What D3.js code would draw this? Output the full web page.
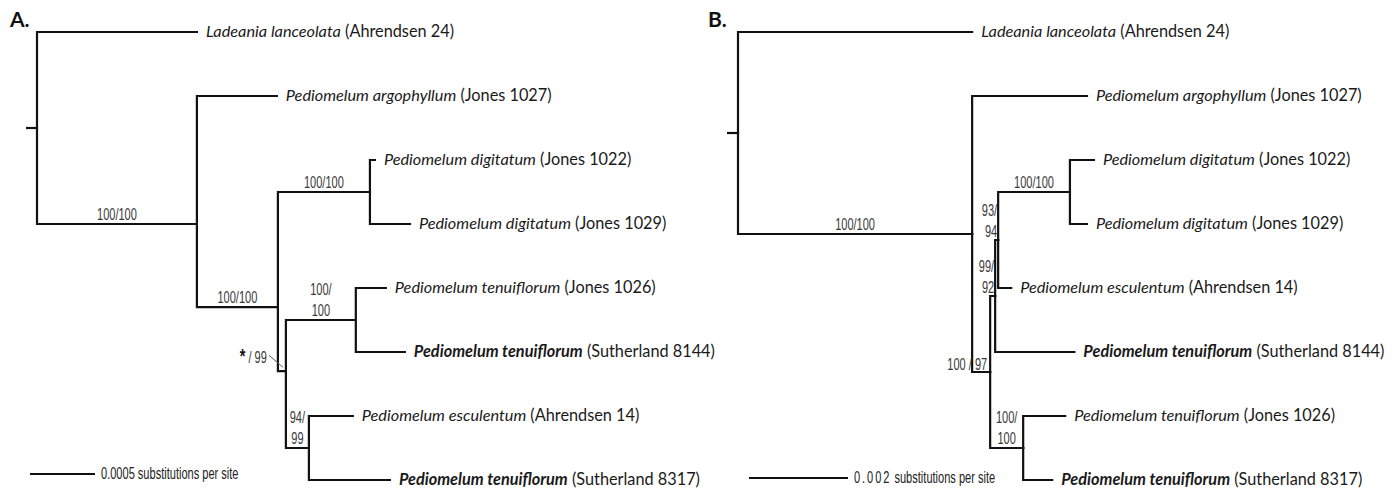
<!DOCTYPE html>
<html>
<head>
<meta charset="utf-8">
<script src="https://cdn.jsdelivr.net/npm/d3@7"></script>
<style>
  html, body { margin: 0; padding: 0; background: #fff; }
  svg { display: block; }
  .taxon { font-family: Lato, "Noto Sans", sans-serif; font-size: 16.3px; fill: #1a1a1a; }
  .support { font-family: "Liberation Sans", Arial, sans-serif; font-size: 16px; fill: #3a3a3a; }
  .scale-text { font-family: "Liberation Sans", Arial, sans-serif; font-size: 17px; fill: #222; }
  .panel-title { font-family: Lato, "Noto Sans", sans-serif; font-size: 21px; font-weight: bold; fill: #111; }
</style>
</head>
<body>
<svg id="chart" width="1395" height="489"></svg>
<script>
// taxon id -> [name (italic), voucher, bold?]
const taxa = {
  lad:     ["Ladeania lanceolata",    "Ahrendsen 24",    false],
  arg:     ["Pediomelum argophyllum", "Jones 1027",      false],
  dig1022: ["Pediomelum digitatum",   "Jones 1022",      false],
  dig1029: ["Pediomelum digitatum",   "Jones 1029",      false],
  ten1026: ["Pediomelum tenuiflorum", "Jones 1026",      false],
  ten8144: ["Pediomelum tenuiflorum", "Sutherland 8144", true],
  esc:     ["Pediomelum esculentum",  "Ahrendsen 14",    false],
  ten8317: ["Pediomelum tenuiflorum", "Sutherland 8317", true]
};

// tree A: [id, parent, branch length (substitutions/site)]
const edgesA = [
  ["root", "", 0],
  ["lad", "root", 0.00123],
  ["a1", "root", 0.00123],
  ["arg", "a1", 0.000615],
  ["a2", "a1", 0.000623],
  ["a3", "a2", 0.000708],
  ["dig1022", "a3", 0.0000385],
  ["dig1029", "a3", 0.000308],
  ["a4", "a2", 0.0000615],
  ["a5", "a4", 0.000538],
  ["ten1026", "a5", 0.000231],
  ["ten8144", "a5", 0.000377],
  ["a6", "a4", 0.000177],
  ["esc", "a6", 0.000338],
  ["ten8317", "a6", 0.000623]
];
// rows of internal nodes in tree A that are not centred on their children
const rowsA = [["a1", 3.0], ["a2", 4.3], ["a4", 5.3]];
const supportA = [
  ["a1", ["100/100"], "above"],
  ["a2", ["100/100"], "above"],
  ["a3", ["100/100"], "above"],
  ["a5", ["100/", "100"], "stack"],
  ["a6", ["94/", "99"], "stack"],
  ["a4", ["*/99"], "leader"]
];

// tree B
const edgesB = [
  ["root", "", 0],
  ["lad", "root", 0.00473],
  ["b1", "root", 0.00473],
  ["arg", "b1", 0.00232],
  ["b2", "b1", 0.000364],
  ["b3", "b2", 0.000101],
  ["b5", "b3", 0.0000606],
  ["b6", "b5", 0.00145],
  ["dig1022", "b6", 0.000485],
  ["dig1029", "b6", 0.000343],
  ["esc", "b5", 0.000263],
  ["ten8144", "b3", 0.0016],
  ["b4", "b2", 0.000667],
  ["ten1026", "b4", 0.000848],
  ["ten8317", "b4", 0.000586]
];
const rowsB = [];
const supportB = [
  ["b1", ["100/100"], "above"],
  ["b6", ["100/100"], "above"],
  ["b5", ["93/", "94"], "leftStack"],
  ["b3", ["99/", "92"], "leftStack"],
  ["b2", ["100 / 97"], "left"],
  ["b4", ["100/", "100"], "stack"]
];

const panels = [
  { title: "A.", titleX: 10, edges: edgesA, rows: rowsA, support: supportA,
    rootX: 37, scaleLen: 0.0005, scalePx: 65, scaleNum: "0.0005",
    barX: 30, barY: 474, numSpacing: 0 },
  { title: "B.", titleX: 708, edges: edgesB, rows: rowsB, support: supportB,
    rootX: 738, scaleLen: 0.002, scalePx: 99, scaleNum: "0.002",
    barX: 749, barY: 478, numSpacing: 3 }
];

const svg = d3.select("#chart");
const nLeaves = 8;
const yRow = d3.scaleLinear().domain([0, nLeaves - 1]).range([32, 480]);

// tall, narrow (Arial Narrow-like) text for support values and scale bar
function narrow(g, cls, x, y, anchor, sx = 0.69) {
  return g.append("text").attr("class", cls)
    .attr("text-anchor", anchor)
    .attr("transform", `translate(${x},${y}) scale(${sx},1)`);
}

panels.forEach(p => {
  const g = svg.append("g");
  const x = d3.scaleLinear().domain([0, p.scaleLen]).range([p.rootX, p.rootX + p.scalePx]);
  const rowOverride = new Map(p.rows);

  const root = d3.stratify()
    .id(d => d[0])
    .parentId(d => d[1] || null)(p.edges);

  // x from cumulative branch length
  root.eachBefore(n => {
    n.dist = n.parent ? n.parent.dist + n.data[2] : 0;
    n.px = x(n.dist);
  });
  // y: leaves in order, internal nodes centred (or read-off row)
  let leafIdx = 0;
  root.eachBefore(n => { if (!n.children) n.row = leafIdx++; });
  root.eachAfter(n => {
    if (n.children) {
      const first = n.children[0].row, last = n.children[n.children.length - 1].row;
      n.row = rowOverride.has(n.id) ? rowOverride.get(n.id) : (first + last) / 2;
    }
    n.py = yRow(n.row);
  });

  // title
  g.append("text").attr("class", "panel-title")
    .attr("x", p.titleX).attr("y", 27).text(p.title);

  // root stub
  g.append("line")
    .attr("x1", root.px - 11).attr("x2", root.px)
    .attr("y1", root.py).attr("y2", root.py)
    .attr("stroke", "#111").attr("stroke-width", 2.2);

  // branches (elbows)
  g.append("g").selectAll("path")
    .data(root.links())
    .join("path")
    .attr("d", l => `M${l.source.px},${l.source.py}V${l.target.py}H${l.target.px}`)
    .attr("fill", "none")
    .attr("stroke", "#111")
    .attr("stroke-width", 2.2)
    .attr("stroke-linecap", "square");

  // leaf labels
  const lab = g.append("g").selectAll("text")
    .data(root.leaves())
    .join("text")
    .attr("class", "taxon")
    .attr("x", d => d.px + 9)
    .attr("y", d => d.py + 5);
  lab.append("tspan")
    .attr("font-style", "italic")
    .attr("font-weight", d => taxa[d.id][2] ? "bold" : "normal")
    .text(d => taxa[d.id][0]);
  lab.append("tspan").text(d => " (" + taxa[d.id][1] + ")");

  // support values
  const byId = new Map(root.descendants().map(n => [n.id, n]));
  p.support.forEach(([id, lines, style]) => {
    const n = byId.get(id);
    const mid = (n.parent.px + n.px) / 2;
    if (style === "above") {
      narrow(g, "support", mid, n.py - 4, "middle").text(lines[0]);
    } else if (style === "stack") {
      lines.forEach((t, i) => narrow(g, "support", mid, n.py - 25 + i * 21, "middle").text(t));
    } else if (style === "leftStack") {
      lines.forEach((t, i) => narrow(g, "support", n.px - 1, n.py - 24 + i * 21, "end").text(t));
    } else if (style === "left") {
      narrow(g, "support", n.px - 3, n.py - 2, "end").text(lines[0]);
    } else if (style === "leader") {
      const [a, b] = lines[0].split("/");
      const t = narrow(g, "support", n.px - 19, n.py - 8, "end");
      t.append("tspan").attr("font-weight", "bold").attr("font-size", 21).attr("fill", "#111").text(a);
      t.append("tspan").text(" / " + b);
      g.append("line")
        .attr("x1", n.px - 17).attr("y1", n.py - 16)
        .attr("x2", n.px - 3).attr("y2", n.py - 4)
        .attr("stroke", "#555").attr("stroke-width", 1);
    }
  });

  // scale bar
  const len = x(p.scaleLen) - x(0);
  g.append("line")
    .attr("x1", p.barX).attr("x2", p.barX + len)
    .attr("y1", p.barY).attr("y2", p.barY)
    .attr("stroke", "#111").attr("stroke-width", 2.2);
  const st = narrow(g, "scale-text", p.barX + len + 6, p.barY + 5, "start", 0.65);
  st.append("tspan").attr("letter-spacing", p.numSpacing).text(p.scaleNum);
  st.append("tspan").text(" substitutions per site");
});
</script>
</body>
</html>
